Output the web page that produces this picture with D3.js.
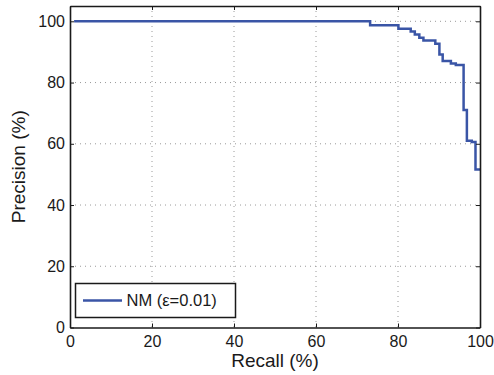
<!DOCTYPE html>
<html>
<head>
<meta charset="utf-8">
<script src="https://cdn.jsdelivr.net/npm/d3@7"></script>
<style>
  body { margin: 0; background: #fff; }
  text { font-family: "Liberation Sans", Arial, Helvetica, sans-serif; fill: #1a1a1a; }
</style>
</head>
<body>
<svg id="chart" width="494" height="375"></svg>
<script>
// recall / precision (step points)
const recall =    [1, 73.2, 80.1, 83.1, 84.1, 85.2, 86.2, 89.1, 90.1, 90.9, 92.9, 94.1, 96.0, 96.8, 98.0, 98.9, 100];
const precision = [100, 98.7, 97.6, 96.7, 95.7, 94.6, 93.7, 92.7, 89.2, 87.0, 86.2, 85.7, 71.0, 61.0, 60.6, 51.6, 51.6];

const xTicks = [0, 20, 40, 60, 80, 100];
const yTicks = [0, 20, 40, 60, 80, 100];
const seriesName = "NM (\u03b5=0.01)";

const plotLeft = 70, plotRight = 480, plotTop = 6, plotBottom = 327.5;

const svg = d3.select("#chart");

const x = d3.scaleLinear().domain([0, 100]).range([plotLeft, plotRight]);
const y = d3.scaleLinear().domain([0, 105]).range([plotBottom, plotTop]);

// dotted grid
const grid = svg.append("g")
	.attr("stroke", "#9a9a9a")
	.attr("stroke-width", 1)
	.attr("stroke-dasharray", "1,4");

grid.selectAll(".gx")
	.data(xTicks.filter(d => d > 0 && d < 100))
	.enter().append("line")
	.attr("x1", d => x(d)).attr("x2", d => x(d))
	.attr("y1", plotTop).attr("y2", plotBottom);

grid.selectAll(".gy")
	.data(yTicks.filter(d => d > 0))
	.enter().append("line")
	.attr("x1", plotLeft).attr("x2", plotRight)
	.attr("y1", d => y(d)).attr("y2", d => y(d));

// curve
const line = d3.line()
	.curve(d3.curveStepAfter)
	.x((d, i) => x(recall[i]))
	.y((d, i) => y(precision[i]));

svg.append("path")
	.datum(recall)
	.attr("fill", "none")
	.attr("stroke", "#3a55a6")
	.attr("stroke-width", 2.5)
	.attr("d", line);

// axes (ticks point inward, MATLAB style)
function styleAxis(g){
	g.select(".domain").attr("stroke", "#1a1a1a").attr("stroke-width", 1.6);
	g.selectAll(".tick line").attr("stroke", "#1a1a1a").attr("stroke-width", 1);
	g.selectAll(".tick text").attr("font-size", 16).attr("fill", "#1a1a1a")
		.style("font-family", '"Liberation Sans", Arial, Helvetica, sans-serif');
}

svg.append("g")
	.attr("transform", `translate(0,${plotBottom})`)
	.call(d3.axisBottom(x).tickValues(xTicks).tickSizeInner(-4).tickSizeOuter(0).tickPadding(8))
	.call(styleAxis);

svg.append("g")
	.attr("transform", `translate(${plotLeft},0)`)
	.call(d3.axisLeft(y).tickValues(yTicks).tickSizeInner(-4).tickSizeOuter(0).tickPadding(5))
	.call(styleAxis);

svg.append("g")
	.attr("transform", `translate(0,${plotTop})`)
	.call(d3.axisTop(x).tickValues(xTicks).tickSizeInner(-4).tickSizeOuter(0).tickFormat(""))
	.call(styleAxis);

svg.append("g")
	.attr("transform", `translate(${plotRight},0)`)
	.call(d3.axisRight(y).tickValues(yTicks).tickSizeInner(-4).tickSizeOuter(0).tickFormat(""))
	.call(styleAxis);

// axis titles
svg.append("text")
	.attr("x", (plotLeft + plotRight) / 2)
	.attr("y", 367)
	.attr("text-anchor", "middle")
	.attr("font-size", 19)
	.text("Recall (%)");

svg.append("text")
	.attr("transform", `translate(25,${(plotTop + plotBottom) / 2}) rotate(-90)`)
	.attr("text-anchor", "middle")
	.attr("font-size", 19)
	.text("Precision (%)");

// legend
const legend = svg.append("g");
legend.append("rect")
	.attr("x", 75.5).attr("y", 283.5)
	.attr("width", 160).attr("height", 34)
	.attr("fill", "#fff")
	.attr("stroke", "#1a1a1a")
	.attr("stroke-width", 1.5);
legend.append("line")
	.attr("x1", 83).attr("x2", 122)
	.attr("y1", 300.5).attr("y2", 300.5)
	.attr("stroke", "#3a55a6")
	.attr("stroke-width", 2.5);
legend.append("text")
	.attr("x", 126.5).attr("y", 306)
	.attr("font-size", 16.5)
	.text(seriesName);
</script>
</body>
</html>
